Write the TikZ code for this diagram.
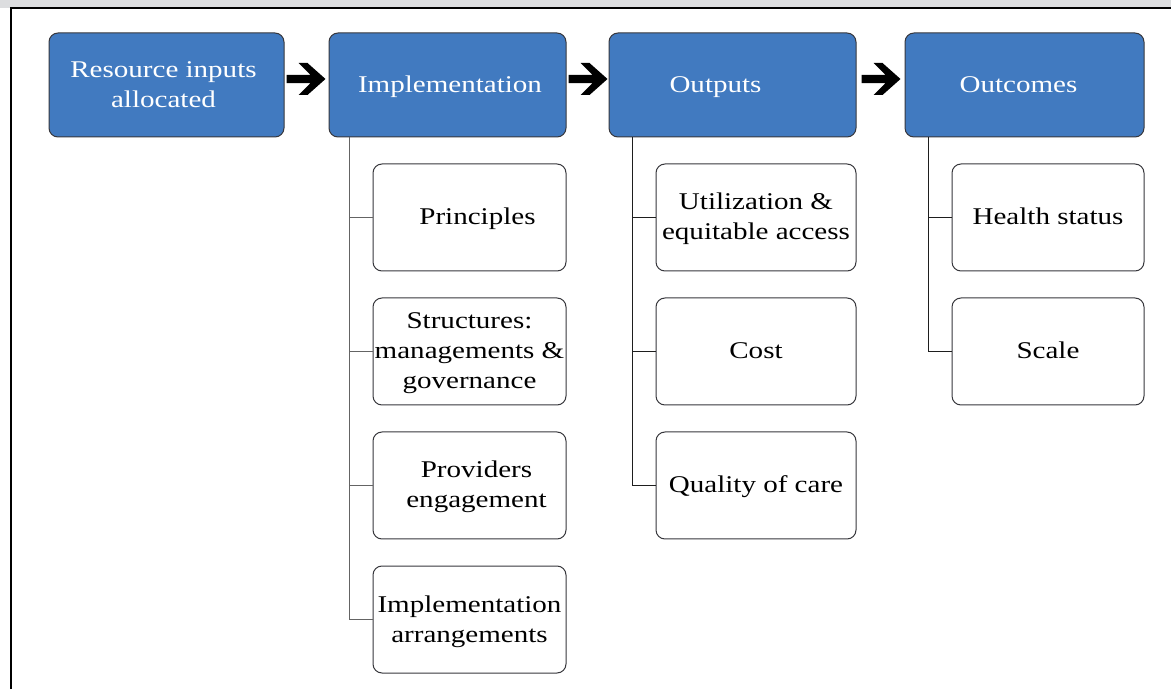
\documentclass[tikz,border=0pt]{standalone}
\usepackage{fontspec}
\setmainfont[FakeStretch=1.21]{Liberation Serif}
\usetikzlibrary{calc}
\definecolor{blueboxfill}{RGB}{65,122,192}
\definecolor{boxedge}{RGB}{55,55,60}
\definecolor{topgray}{RGB}{220,221,223}
\definecolor{treegray}{RGB}{100,100,100}
\definecolor{treedark}{RGB}{30,30,30}
\newcommand\boxlines[1]{\begin{tabular}{@{}c@{}}\rule{0pt}{24pt}#1\end{tabular}}
\begin{document}
\begin{tikzpicture}[x=1pt,y=1pt,
  bluebox/.style={draw=boxedge, fill=blueboxfill, rounded corners=9pt, line width=1pt,
    minimum height=104pt, inner sep=0pt, text=white, font=\fontsize{24}{30}\selectfont},
  whitebox/.style={draw=boxedge, fill=white, rounded corners=9pt, line width=1pt,
    minimum height=107pt, inner sep=0pt, text=black, font=\fontsize{24}{30}\selectfont},
  implbox/.style={whitebox, minimum width=193pt},
  outpbox/.style={whitebox, minimum width=200pt},
  outcbox/.style={whitebox, minimum width=192pt},
  treeline/.style={line width=1.3pt},
  chev/.pic={\fill[black] (0,-4.2) -- (24,-4.2) -- (12,-16) -- (21,-16) -- (39,0)
      -- (21,16) -- (12,16) -- (24,4.2) -- (0,4.2) -- cycle;}
]
\useasboundingbox (0,0) rectangle (1171,689);
% frame
\fill[topgray] (0,681) rectangle (1171,689);
\draw[line width=1.3pt] (11,0) -- (11,681) -- (1171,681);

% top row
\node[bluebox, minimum width=235pt] (res) at (166.5,604)
  {\boxlines{Resource inputs\\allocated}\rule{6pt}{0pt}};
\node[bluebox, minimum width=237pt] (impl) at (447.5,604)
  {\rule{5pt}{0pt}\boxlines{Implementation}};
\node[bluebox, minimum width=247pt] (outp) at (732.5,604)
  {\boxlines{Outputs}\rule{34pt}{0pt}};
\node[bluebox, minimum width=239pt] (outc) at (1024.5,604)
  {\boxlines{Outcomes}\rule{12pt}{0pt}};

% arrows
\pic at ($(res.east)+(2,6)$) {chev};
\pic at ($(impl.east)+(2,6)$) {chev};
\pic at ($(outp.east)+(5,6)$) {chev};

% implementation children
\node[implbox] (i1) at (469.5,471.5) {\rule{16pt}{0pt}\boxlines{Principles}};
\node[implbox] (i2) at (469.5,337.5) {\boxlines{Structures:\\managements \&\\governance}};
\node[implbox] (i3) at (469.5,203.5) {\rule{14pt}{0pt}\boxlines{Providers\\engagement}};
\node[implbox] (i4) at (469.5,69.5) {\boxlines{Implementation\\arrangements}};

% outputs children
\node[outpbox] (o1) at (756,471.5) {\boxlines{Utilization \&\\equitable access}};
\node[outpbox] (o2) at (756,337.5) {\boxlines{Cost}};
\node[outpbox] (o3) at (756,203.5) {\boxlines{Quality of care}};

% outcomes children
\node[outcbox] (c1) at (1048,471.5) {\boxlines{Health status}};
\node[outcbox] (c2) at (1048,337.5) {\boxlines{Scale}};

% tree connectors
\coordinate (ibar) at ($(impl.south west)+(21,0)$);
\coordinate (obar) at ($(outp.south west)+(24,0)$);
\coordinate (cbar) at ($(outc.south west)+(24,0)$);

\draw[treeline, treegray] (ibar) |- (i4.west);
\draw[treeline, treegray] (ibar |- i1.west) -- (i1.west);
\draw[treeline, treegray] (ibar |- i2.west) -- (i2.west);
\draw[treeline, treegray] (ibar |- i3.west) -- (i3.west);

\draw[treeline, treedark] (obar) |- (o3.west);
\draw[treeline, treedark] (obar |- o1.west) -- (o1.west);
\draw[treeline, treedark] (obar |- o2.west) -- (o2.west);

\draw[treeline, treedark] (cbar) |- (c2.west);
\draw[treeline, treedark] (cbar |- c1.west) -- (c1.west);
\end{tikzpicture}
\end{document}
